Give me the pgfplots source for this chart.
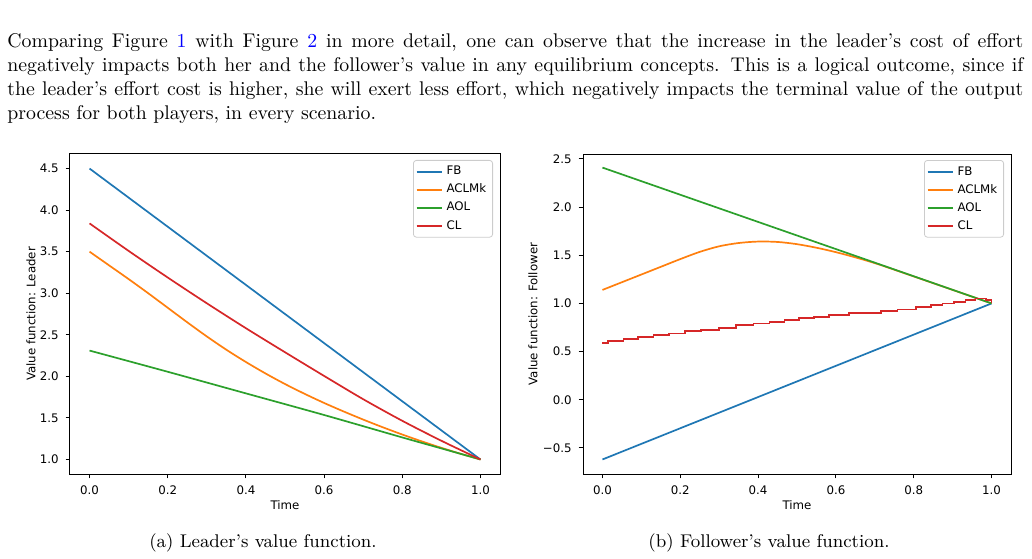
\documentclass[border=0pt]{standalone}
\usepackage{fontspec}
\usepackage{xcolor}
\usepackage{pgfplots}
\pgfplotsset{compat=1.18}
\newfontfamily\plotfont{DejaVu Sans}
\newcommand\pf{\plotfont\fontsize{5.9}{7}\selectfont}
\definecolor{tabblue}{HTML}{1F77B4}
\definecolor{taborange}{HTML}{FF7F0E}
\definecolor{tabgreen}{HTML}{2CA02C}
\definecolor{tabred}{HTML}{D62728}
\definecolor{linkblue}{rgb}{0,0,1}

\pgfplotsset{
  vfplot/.style={
    scale only axis, width=215pt, height=160pt,
    xmin=-0.05, xmax=1.05,
    axis line style={line width=0.5pt, black},
    tick align=outside, tick pos=left,
    major tick length=2.2pt,
    every tick/.style={black, line width=0.45pt},
    xtick={0,0.2,0.4,0.6,0.8,1},
    xticklabels={0.0,0.2,0.4,0.6,0.8,1.0},
    tick label style={font=\pf},
    label style={font=\pf},
    xlabel={Time},
    xlabel style={at={(axis description cs:0.5,0)}, anchor=center, yshift=-15.5pt},
    legend cell align=left,
    legend style={at={(1,1)}, anchor=north east, xshift=-3.5pt, yshift=-3pt,
      draw=black!20, rounded corners=1.5pt, line width=0.4pt, font=\pf,
      inner xsep=1.2pt, inner ysep=1.2pt, row sep=0pt,
      nodes={inner xsep=2pt, inner ysep=1.5pt, text height=4.6pt, text depth=1.4pt}},
    legend image code/.code={\draw[#1, line width=0.85pt] (0pt,0pt) -- (12.5pt,0pt);},
    every axis plot/.append style={line width=0.85pt},
  }
}

\begin{document}
\begin{tikzpicture}
\useasboundingbox (0,0) rectangle (516pt,279pt);

% running text above the figure
\begin{scope}[every node/.style={font=\fontsize{9.9}{12}\selectfont}]
\node[anchor=base west, inner sep=0] at (3.5pt,255.25pt) {\makebox[508pt][s]{Comparing Figure \textcolor{linkblue}{1} with Figure \textcolor{linkblue}{2} in more detail, one can observe that the increase in the leader's cost of effort}};
\node[anchor=base west, inner sep=0] at (3.5pt,243.25pt) {\makebox[508pt][s]{negatively impacts both her and the follower's value in any equilibrium concepts. This is a logical outcome, since if}};
\node[anchor=base west, inner sep=0] at (3.5pt,231.25pt) {\makebox[508pt][s]{the leader's effort cost is higher, she will exert less effort, which negatively impacts the terminal value of the output}};
\node[anchor=base west, inner sep=0] at (3.5pt,219.25pt) {process for both players, in every scenario.};
\end{scope}

% (a) leader
\begin{axis}[vfplot, at={(35pt,42pt)}, anchor=south west,
  ymin=0.825, ymax=4.675,
  ytick={1,1.5,2,2.5,3,3.5,4,4.5},
  yticklabels={1.0,1.5,2.0,2.5,3.0,3.5,4.0,4.5},
  ylabel={Value function: Leader},
  ylabel style={at={([xshift=-19.5pt]axis description cs:0,0.5)}, anchor=center}]
\addplot[tabblue] coordinates {(0,4.5) (1,1.0)};
\addlegendentry{FB}
\addplot[taborange, smooth] coordinates {
 (0,3.50) (0.05,3.335) (0.1,3.17) (0.15,3.0) (0.2,2.825) (0.25,2.65)
 (0.3,2.48) (0.35,2.32) (0.4,2.1725) (0.45,2.035) (0.5,1.9075) (0.55,1.79)
 (0.6,1.68) (0.65,1.5775) (0.7,1.48) (0.75,1.3875) (0.8,1.30) (0.85,1.2175)
 (0.9,1.14) (0.95,1.0675) (1,1.0)};
\addlegendentry{ACLMk}
\addplot[tabgreen, smooth] coordinates {
 (0,2.31) (0.2,2.055) (0.4,1.795) (0.6,1.535) (0.8,1.265) (0.9,1.133) (1,1.0)};
\addlegendentry{AOL}
\addplot[tabred, smooth] coordinates {
 (0,3.84) (0.1,3.509) (0.2,3.189) (0.3,2.879) (0.4,2.579) (0.5,2.29)
 (0.6,2.005) (0.7,1.725) (0.8,1.465) (0.9,1.225) (1,1.0)};
\addlegendentry{CL}
\end{axis}

% (b) follower
\begin{axis}[vfplot, at={(291.5pt,42pt)}, anchor=south west, width=214pt,
  ymin=-0.771, ymax=2.551,
  ytick={-0.5,0,0.5,1,1.5,2,2.5},
  yticklabels={−0.5,0.0,0.5,1.0,1.5,2.0,2.5},
  ylabel={Value function: Follower},
  ylabel style={at={([xshift=-25pt]axis description cs:0,0.5)}, anchor=center}]
\addplot[tabblue] coordinates {(0,-0.62) (1,1.0)};
\addlegendentry{FB}
\addplot[taborange, smooth] coordinates {
 (0,1.14) (0.05,1.22) (0.1,1.30) (0.15,1.38) (0.2,1.46) (0.25,1.535)
 (0.3,1.593) (0.35,1.627) (0.4,1.642) (0.45,1.638) (0.5,1.615) (0.55,1.578)
 (0.6,1.532) (0.65,1.478) (0.7,1.418) (0.75,1.35) (0.8,1.28) (0.85,1.21)
 (0.9,1.14) (0.95,1.07) (1,1.0)};
\addlegendentry{ACLMk}
\addplot[tabgreen] coordinates {(0,2.41) (1,1.0)};
\addlegendentry{AOL}
\addplot[tabred, const plot] coordinates {
 (0,0.592) (0.015,0.612) (0.054,0.627) (0.092,0.648) (0.131,0.669)
 (0.171,0.689) (0.212,0.710) (0.254,0.727) (0.299,0.748) (0.344,0.773)
 (0.388,0.793) (0.429,0.810) (0.468,0.828) (0.506,0.845) (0.544,0.862)
 (0.583,0.880) (0.634,0.898) (0.716,0.918) (0.758,0.938) (0.805,0.960)
 (0.844,0.982) (0.874,1.000) (0.903,1.018) (0.933,1.034) (0.959,1.050)
 (0.985,1.035) (1,1.0)};
\addlegendentry{CL}
\end{axis}

% sub-captions
\node[anchor=base, font=\fontsize{9.2}{11}\selectfont] at (131.5pt,5.4pt) {(a) Leader's value function.};
\node[anchor=base, font=\fontsize{9.2}{11}\selectfont] at (384.5pt,5.4pt) {(b) Follower's value function.};
\end{tikzpicture}
\end{document}
